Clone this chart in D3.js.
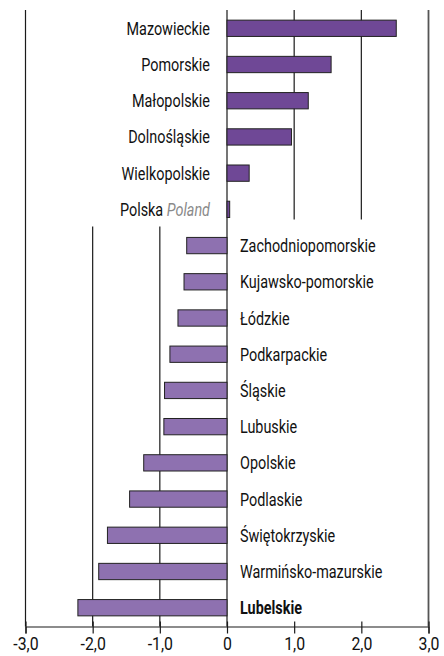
<!DOCTYPE html>
<html lang="pl">
<head>
<meta charset="UTF-8">
<title>Województwa</title>
<script src="https://d3js.org/d3.v7.min.js"></script>
<style>
body { margin: 0; background: #fff; }
svg text { font-family: Roboto, "Liberation Sans", sans-serif; }
</style>
</head>
<body>
<div id="chart"></div>
<script>
const regions = ["Mazowieckie", "Pomorskie", "Małopolskie", "Dolnośląskie", "Wielkopolskie", "Polska",
    "Zachodniopomorskie", "Kujawsko-pomorskie", "Łódzkie", "Podkarpackie", "Śląskie", "Lubuskie",
    "Opolskie", "Podlaskie", "Świętokrzyskie", "Warmińsko-mazurskie", "Lubelskie"]
const values = [2.52, 1.55, 1.21, 0.96, 0.33, 0.04,
    -0.60, -0.64, -0.73, -0.85, -0.93, -0.94,
    -1.24, -1.45, -1.78, -1.91, -2.22]
const tickValues = [-3, -2, -1, 0, 1, 2, 3]
const tickLabels = ["-3,0", "-2,0", "-1,0", "0", "1,0", "2,0", "3,0"]

const width = 444, height = 656
const squeeze = 0.8   // zwężenie czcionki (oryginał to krój condensed)

const svg = d3.select('#chart').append('svg')
    .attr('width', width).attr('height', height)

const x = d3.scaleLinear().domain([-3, 3]).range([25.5, 428.5])
const y = d3.scaleBand().domain(regions).range([10, 626]).paddingInner(0.55).paddingOuter(0.28)

const plotTop = 10, axisY = 626.5
const polskaY = y("Polska") + y.bandwidth() + 9

// ramka i linie siatki
const grid = svg.append('g').attr('stroke', '#1a1a1a').attr('stroke-width', 1.2)
grid.append('line').attr('x1', x(-3)).attr('x2', x(-3)).attr('y1', plotTop).attr('y2', axisY)
grid.append('line').attr('x1', x(3)).attr('x2', x(3)).attr('y1', plotTop).attr('y2', axisY)
    .attr('stroke', '#555').attr('stroke-width', 1.8)
grid.append('line').attr('x1', x(0)).attr('x2', x(0)).attr('y1', plotTop).attr('y2', axisY)
;[1, 2].forEach(v => {
    grid.append('line').attr('x1', x(v)).attr('x2', x(v)).attr('y1', plotTop).attr('y2', y("Polska") + y.bandwidth() + 2)
})
;[-1, -2].forEach(v => {
    grid.append('line').attr('x1', x(v)).attr('x2', x(v)).attr('y1', polskaY).attr('y2', axisY)
})

// słupki
svg.append('g').selectAll('rect')
    .data(regions)
    .join('rect')
    .attr('x', (d, i) => x(Math.min(0, values[i])))
    .attr('y', d => y(d))
    .attr('width', (d, i) => Math.abs(x(values[i]) - x(0)))
    .attr('height', y.bandwidth())
    .attr('fill', (d, i) => values[i] >= 0 ? '#6f4896' : '#8e71b0')
    .attr('stroke', '#222')
    .attr('stroke-width', 1)

// etykiety
const labels = svg.append('g').attr('font-size', 18).attr('fill', '#111')
regions.forEach((r, i) => {
    const cy = y(r) + y.bandwidth() / 2 + 6.5
    if (r === "Polska") {
        const t = labels.append('text').attr('transform', `translate(${x(0) - 17},${cy}) scale(${squeeze},1)`)
            .attr('text-anchor', 'end')
        t.append('tspan').text('Polska  ')
        t.append('tspan').text('Poland').attr('font-style', 'italic').attr('fill', '#8a8a8a')
    } else if (values[i] >= 0) {
        labels.append('text').attr('transform', `translate(${x(0) - 17},${cy}) scale(${squeeze},1)`)
            .attr('text-anchor', 'end').text(r)
    } else {
        labels.append('text').attr('transform', `translate(${x(0) + 13},${cy}) scale(${squeeze},1)`)
            .attr('font-weight', r === "Lubelskie" ? 'bold' : null)
            .text(r)
    }
})

// oś X
const axis = d3.axisBottom(x).tickValues(tickValues)
    .tickFormat((d, i) => tickLabels[i]).tickSize(7).tickPadding(4)
const ax = svg.append('g').attr('transform', `translate(0,${axisY})`).call(axis)
ax.select('.domain').attr('stroke', '#1a1a1a').attr('stroke-width', 1.2)
ax.selectAll('.tick line').attr('stroke', '#1a1a1a').attr('stroke-width', 1.2).attr('y1', -5)
ax.selectAll('.tick text').attr('font-size', 18).attr('fill', '#111')
    .attr('font-family', 'Roboto, sans-serif')
    .attr('transform', `scale(0.88,1)`)
</script>
</body>
</html>
